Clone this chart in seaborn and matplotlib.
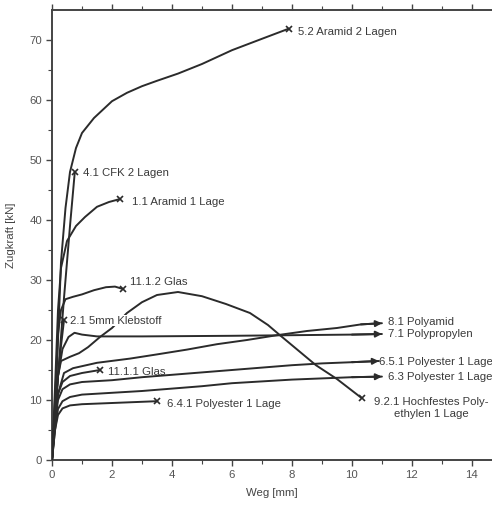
import matplotlib
matplotlib.use("Agg")
import matplotlib.pyplot as plt
import seaborn as sns
import numpy as np

# ---------------- data (Weg [mm], Zugkraft [kN]) ----------------
aramid2_x = [0, 0.1, 0.2, 0.3, 0.45, 0.6, 0.8, 1.0, 1.4, 2.0, 2.5, 3.0, 3.5, 4.2, 5.0, 6.0, 7.0, 7.9]
aramid2_y = [0, 8, 20, 33, 42, 48, 52, 54.5, 57, 59.8, 61.2, 62.3, 63.2, 64.4, 66, 68.3, 70.2, 71.9]

cfk2_x = [0, 0.2, 0.4, 0.6, 0.76]
cfk2_y = [0, 14, 27, 39, 48]

aramid1_x = [0, 0.1, 0.2, 0.3, 0.5, 0.8, 1.1, 1.5, 1.9, 2.27]
aramid1_y = [0, 12, 25, 32, 36.5, 39, 40.5, 42.2, 43, 43.5]

glas112_x = [0, 0.1, 0.2, 0.3, 0.45, 0.7, 1.0, 1.4, 1.8, 2.1, 2.37]
glas112_y = [0, 10, 21, 25, 26.8, 27.2, 27.6, 28.3, 28.8, 28.9, 28.5]

kleb_x = [0, 0.1, 0.2, 0.3, 0.4]
kleb_y = [0, 7, 14, 19, 23.3]

pe_x = [0, 0.1, 0.2, 0.3, 0.6, 0.9, 1.2, 1.6, 2.0, 2.5, 3.0, 3.5, 4.2, 5.0, 5.8, 6.6, 7.2, 7.6, 8.2, 8.8, 9.5, 10.33]
pe_y = [0, 8, 14, 16.5, 17.2, 17.8, 18.8, 20.5, 22, 24.5, 26.3, 27.5, 28, 27.3, 26, 24.5, 22.5, 20.8, 18.3, 15.8, 13.5, 10.3]

pa_x = [0, 0.1, 0.2, 0.4, 0.7, 1.5, 2.6, 3.5, 4.5, 5.5, 6.5, 7.5, 8.5, 9.5, 10.3, 11.0]
pa_y = [0, 6, 11, 14.5, 15.3, 16.2, 16.9, 17.6, 18.4, 19.3, 20.0, 20.8, 21.5, 22.0, 22.6, 22.8]

pp_x = [0, 0.1, 0.2, 0.35, 0.55, 0.75, 1.0, 1.5, 3, 6, 8, 10, 11.0]
pp_y = [0, 8, 14, 18.5, 20.5, 21.2, 20.9, 20.6, 20.6, 20.7, 20.8, 20.9, 21.0]

glas111_x = [0, 0.1, 0.2, 0.35, 0.6, 1.0, 1.6]
glas111_y = [0, 7, 11, 13, 14, 14.5, 15]

pes651_x = [0, 0.1, 0.2, 0.35, 0.6, 1.0, 2, 3, 4, 5, 6, 7, 8, 9, 10, 10.9]
pes651_y = [0, 6, 10, 11.8, 12.6, 13, 13.3, 13.8, 14.2, 14.6, 15.0, 15.4, 15.8, 16.1, 16.3, 16.5]

pes63_x = [0, 0.1, 0.2, 0.35, 0.6, 1, 2, 3, 4, 5, 6, 7, 8, 9, 10, 11.0]
pes63_y = [0, 5, 8.5, 9.8, 10.5, 10.9, 11.2, 11.5, 11.9, 12.3, 12.8, 13.1, 13.4, 13.6, 13.8, 13.9]

pes641_x = [0, 0.1, 0.2, 0.35, 0.6, 1, 2, 3, 3.5]
pes641_y = [0, 5, 7.5, 8.6, 9.1, 9.3, 9.5, 9.7, 9.8]

x_ticks = [0, 2, 4, 6, 8, 10, 12, 14]
y_ticks = [0, 10, 20, 30, 40, 50, 60, 70]

# (x, y, end style, label, label x, label y, options)
series = [
    (aramid2_x, aramid2_y, "x", "5.2 Aramid 2 Lagen", 8.2, 71.3, {}),
    (cfk2_x, cfk2_y, "x", "4.1 CFK 2 Lagen", 1.03, 47.8, {}),
    (aramid1_x, aramid1_y, "x", "1.1 Aramid 1 Lage", 2.67, 43.0, {}),
    (glas112_x, glas112_y, "x", "11.1.2 Glas", 2.6, 29.6, {}),
    (pe_x, pe_y, "x", "9.2.1 Hochfestes Poly-\nethylen 1 Lage", 12.65, 8.7,
     {"ha": "center", "multialignment": "center", "linespacing": 1.3}),
    (kleb_x, kleb_y, "x", "2.1 5mm Klebstoff", 0.6, 23.2,
     {"bbox": dict(facecolor="white", edgecolor="none", pad=0.3), "zorder": 5}),
    (pa_x, pa_y, "arrow", "8.1 Polyamid", 11.2, 23.0, {}),
    (pp_x, pp_y, "arrow", "7.1 Polypropylen", 11.2, 21.0, {}),
    (glas111_x, glas111_y, "x", "11.1.1 Glas", 1.87, 14.7, {}),
    (pes651_x, pes651_y, "arrow", "6.5.1 Polyester 1 Lage", 10.9, 16.3, {}),
    (pes63_x, pes63_y, "arrow", "6.3 Polyester 1 Lage", 11.2, 13.8, {}),
    (pes641_x, pes641_y, "x", "6.4.1 Polyester 1 Lage", 3.83, 9.3, {}),
]

# ---------------- figure ----------------
sns.set_theme(style="ticks")
plt.rcParams["font.family"] = ["Liberation Sans", "DejaVu Sans"]

line_c = "#2b2b2b"
text_c = "#3a3a3a"

fig = plt.figure(figsize=(4.92, 5.09), dpi=100)
ax = fig.add_axes([52 / 492, 49 / 509, 440 / 492, 450 / 509])

for xs, ys, end, label, lx, ly, opts in series:
    sns.lineplot(x=xs, y=ys, ax=ax, sort=False, estimator=None,
                 color=line_c, lw=1.4, zorder=3)
    if end == "x":
        ax.plot(xs[-1], ys[-1], marker="x", ms=5, mew=1.2, color=line_c, zorder=4)
    else:
        ax.annotate("", xy=(xs[-1], ys[-1]), xytext=(xs[-2], ys[-2]),
                    arrowprops=dict(arrowstyle="-|>", color=line_c, lw=1.4,
                                    mutation_scale=9, shrinkA=0, shrinkB=0),
                    zorder=4)
    kw = dict(ha="left", va="center", fontsize=8.2, color=text_c)
    kw.update(opts)
    ax.text(lx, ly, label, **kw)

ax.set_xlim(0, 14.67)
ax.set_ylim(0, 75)
ax.set_xticks(x_ticks)
ax.set_yticks(y_ticks)
ax.set_xticks(np.arange(1, 15, 2), minor=True)
ax.set_yticks(np.arange(5, 75, 10), minor=True)

ax.spines["right"].set_visible(False)
for s in ("left", "bottom", "top"):
    ax.spines[s].set_color("#444444")
    ax.spines[s].set_linewidth(1.4)

ax.tick_params(axis="both", which="major", direction="out", length=4, width=1.0,
               color="#444444", labelsize=8.2, labelcolor="#555555", pad=3)
ax.tick_params(axis="both", which="minor", direction="out", length=3, width=0.8,
               color="#444444")
ax.tick_params(axis="x", which="both", top=True, labeltop=False)

ax.set_xlabel("Weg [mm]", fontsize=8.2, color="#444444", labelpad=6)
ax.set_ylabel("Zugkraft [kN]", fontsize=8.2, color="#444444", labelpad=10)

fig.savefig("out.png", dpi=100)
